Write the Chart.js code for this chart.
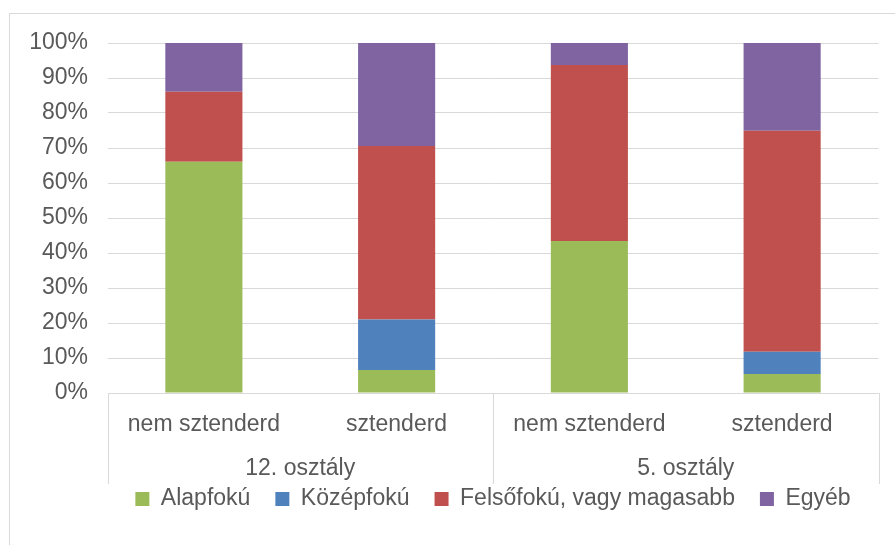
<!DOCTYPE html>
<html lang="hu">
	<head>
		<meta charset="utf-8" />
		<title>Szülők iskolai végzettsége</title>
		<script src="https://cdn.jsdelivr.net/npm/chart.js@4.4.0/dist/chart.umd.min.js"></script>
		<style>
			body { margin: 0; background: #fff; overflow: hidden; }
			#frame {
				position: absolute; left: 9px; top: 13px; width: 1000px; height: 1000px;
				border-left: 1px solid #d9d9d9; border-top: 1px solid #d9d9d9;
			}
			#myChart { position: absolute; left: 0; top: 0; }
		</style>
	</head>
	<body>
		<div id="frame"></div>
		<canvas id="myChart" width="895" height="545"></canvas>
		<script type="text/javascript">

			// categories (inner level) and groups (outer level)
			const labels = ['nem sztenderd', 'sztenderd', 'nem sztenderd', 'sztenderd'];
			const groups = ['12. osztály', '5. osztály'];

			// series values, percent
			const alapfoku = [66.1, 6.6, 43.4, 5.4];
			const kozepfoku = [0, 14.4, 0, 6.4];
			const felsofoku = [20.0, 49.6, 50.3, 63.1];
			const egyeb = [13.9, 29.4, 6.3, 25.1];

			// y tick labels
			const yTicks = [0, 10, 20, 30, 40, 50, 60, 70, 80, 90, 100];

			const gridColor = '#d9d9d9';

			// outer level of the category axis: separators and group names
			const groupAxis = {
				id: 'groupAxis',
				afterDraw(chart) {
					const x2 = chart.scales.x2;
					const ctx = chart.ctx;
					const top = chart.chartArea.bottom;
					const bottom = x2.top + 45;
					ctx.save();
					ctx.strokeStyle = gridColor;
					ctx.lineWidth = 1;
					for (let i = 0; i <= groups.length; i++) {
						const px = Math.round(x2.getPixelForValue(i - 0.5)) + 0.5;
						ctx.beginPath();
						ctx.moveTo(px, top);
						ctx.lineTo(px, bottom);
						ctx.stroke();
					}
					ctx.fillStyle = '#595959';
					ctx.font = Chart.helpers.toFont(Chart.defaults.font).string;
					ctx.textAlign = 'center';
					ctx.textBaseline = 'middle';
					groups.forEach((g, i) => {
						ctx.fillText(g, x2.getPixelForValue(i), x2.top + 30);
					});
					ctx.restore();
				}
			};

			Chart.defaults.font.family = "'Liberation Sans', Arial, sans-serif";
			Chart.defaults.font.size = 23;
			Chart.defaults.color = '#595959';

			const ctx = document.getElementById('myChart').getContext('2d');
			const myChart = new Chart(ctx, {
				type: 'bar',
				data: {
					labels: labels,
					datasets: [
						{ label: 'Alapfokú', data: alapfoku, backgroundColor: '#9bbb59' },
						{ label: 'Középfokú', data: kozepfoku, backgroundColor: '#4f81bd' },
						{ label: 'Felsőfokú, vagy magasabb', data: felsofoku, backgroundColor: '#c0504d' },
						{ label: 'Egyéb', data: egyeb, backgroundColor: '#8064a2' }
					]
				},
				options: {
					responsive: false,
					animation: false,
					categoryPercentage: 1,
					barPercentage: 0.4,
					layout: { padding: { left: 20, right: 16.5, top: 43, bottom: 24.5 } },
					plugins: {
						tooltip: { enabled: false },
						legend: {
							position: 'bottom',
							fullSize: false,
							labels: { boxWidth: 14, boxHeight: 14, padding: 25 }
						}
					},
					scales: {
						x: {
							stacked: true,
							grid: { display: false, drawTicks: false },
							border: { display: false },
							ticks: { padding: 18, maxRotation: 0, autoSkip: false },
							afterFit: (s) => { s.height = 46; }
						},
						x2: {
							type: 'category',
							labels: groups,
							offset: true,
							position: 'bottom',
							grid: { display: false, drawTicks: false },
							border: { display: false },
							ticks: { display: false },
							afterFit: (s) => { s.height = 23.5; }
						},
						y: {
							stacked: true,
							min: 0,
							max: 100,
							afterBuildTicks: (s) => { s.ticks = yTicks.map(v => ({ value: v })); },
							grid: { color: gridColor, drawTicks: false },
							border: { display: false },
							ticks: { padding: 19.5, callback: (v) => v + '%' },
							afterFit: (s) => { s.width = 87.5; }
						}
					}
				},
				plugins: [groupAxis]
			});
		</script>
	</body>
</html>
